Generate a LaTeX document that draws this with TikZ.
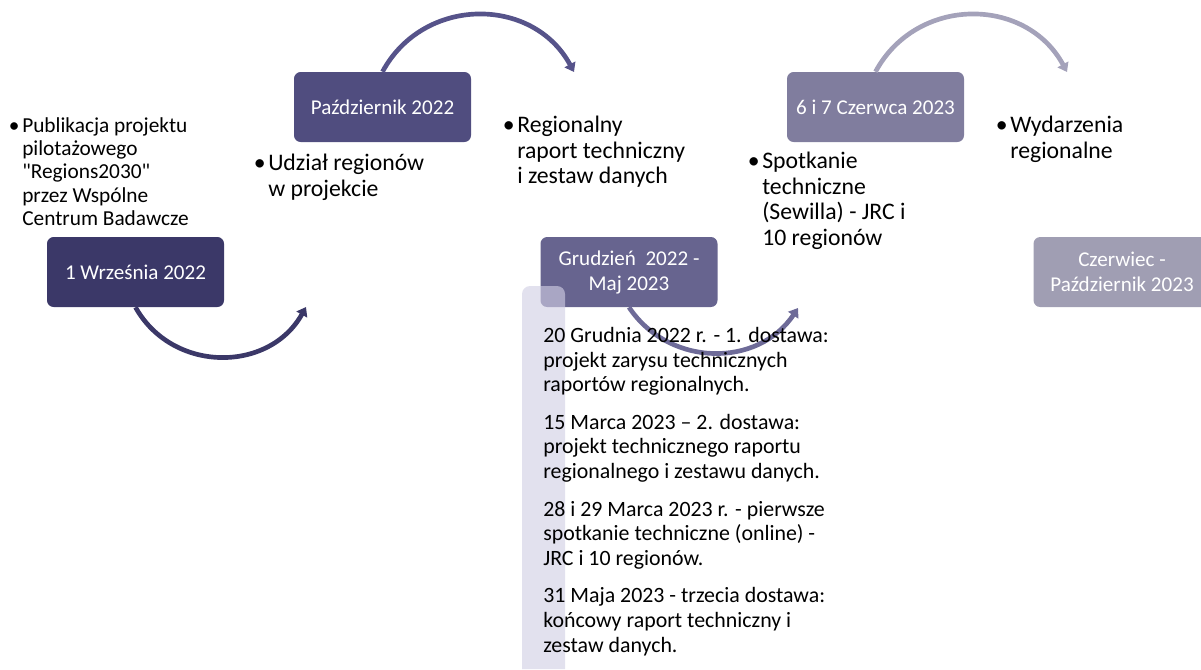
\documentclass[tikz,border=0pt]{standalone}
\usepackage{fontspec}
\setmainfont{Carlito}
\usetikzlibrary{arrows.meta}
\definecolor{boxA}{RGB}{59,56,104}
\definecolor{boxB}{RGB}{80,77,127}
\definecolor{boxC}{RGB}{103,100,143}
\definecolor{boxD}{RGB}{128,125,158}
\definecolor{boxE}{RGB}{160,158,179}
\definecolor{arrB}{RGB}{86,83,138}
\definecolor{arrC}{RGB}{110,107,152}
\definecolor{arrD}{RGB}{164,162,186}
\definecolor{barcol}{RGB}{209,207,228}
\newcommand{\bul}{\llap{\textbullet\hspace{2pt}}}
\begin{document}
\begin{tikzpicture}[x=0.75pt,y=-0.75pt,
  datebox/.style={fill=#1, rounded corners=5pt, minimum width=132.75pt, minimum height=52.5pt,
    text=white, align=center, inner sep=0pt, font=\fontsize{15.8}{18.75}\selectfont},
  bullettext/.style={anchor=north west, align=left, inner sep=0pt, font=\fontsize{17.8}{19.2}\selectfont},
  curvearrow/.style={draw=#1, line width=3.5pt, -{Triangle[width=9pt,length=6.5pt]}}]
			\useasboundingbox (0,0) rectangle (1201,669);
			% date boxes
			\node[datebox=boxA] (wrz) at (135.5,272) {1 Września 2022};
			\node[datebox=boxB] (paz) at (382.5,107) {Październik 2022};
			\node[datebox=boxC] (gru) at (629,272) {Grudzień\ \ 2022 -\\Maj 2023};
			\node[datebox=boxD] (cze) at (875.5,107) {6 i 7 Czerwca 2023};
			\node[datebox=boxE] (czp) at (1122,272) {Czerwiec -\\Październik 2023};
			% bar under the list
			\fill[barcol, fill opacity=0.625, rounded corners=6pt] (522,669) -- (522,286) -- (565,286) -- (565,669);
			% arrows
			\coordinate (endA) at (306,307);
			\coordinate (endB) at (574,72);
			\coordinate (endC) at (798,308);
			\coordinate (endD) at (1067,72);
			\draw[curvearrow=boxA] (wrz.south) .. controls +(37,66) and +(-37,66) .. (endA);
			\draw[curvearrow=arrB] (paz.north) .. controls +(41,-76) and +(-41,-76) .. (endB);
			\draw[curvearrow=arrC] (gru.south) .. controls +(40,60) and +(-40,60) .. (endC);
			\draw[curvearrow=arrD] (cze.north) .. controls +(41,-76) and +(-41,-76) .. (endD);
			% texts
			\node[bullettext, font=\fontsize{16}{17.4}\selectfont] (tpub) at (22,117.5)
				{\bul Publikacja projektu\\pilotażowego\\\textquotedbl Regions2030\textquotedbl\\przez Wspólne\\Centrum Badawcze};
			\node[bullettext] (tudz) at (268,154) {\bul Udział regionów\\w projekcie};
			\node[bullettext] (treg) at (517,116) {\bul Regionalny\\raport techniczny\\i zestaw danych};
			\node[bullettext] (tspot) at (762,152) {\bul Spotkanie\\techniczne\\(Sewilla) - JRC i\\10 regionów};
			\node[bullettext] (twyd) at (1010,116) {\bul Wydarzenia\\regionalne};
			\node[bullettext, font=\fontsize{16.4}{18.5}\selectfont] (tlist) at (543,327)
				{20 Grudnia 2022 r. - 1. dostawa:\\projekt zarysu technicznych\\raportów regionalnych.\\[9.6pt]
				15 Marca 2023 – 2. dostawa:\\projekt technicznego raportu\\regionalnego i zestawu danych.\\[9.6pt]
				28 i 29 Marca 2023 r. - pierwsze\\spotkanie techniczne (online) -\\JRC i 10 regionów.\\[9.6pt]
				31 Maja 2023 - trzecia dostawa:\\końcowy raport techniczny i\\zestaw danych.};
		\end{tikzpicture}
\end{document}
